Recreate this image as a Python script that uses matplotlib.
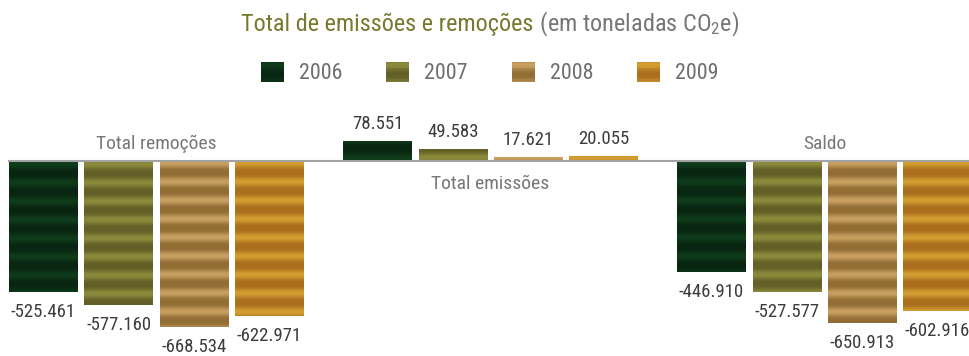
import matplotlib
matplotlib.use('Agg')
import matplotlib.pyplot as plt
import numpy as np
from matplotlib import font_manager
from matplotlib.colors import to_rgb
from matplotlib.patches import Rectangle
from matplotlib.legend_handler import HandlerBase

# ── Data (tonnes CO2e) ──
years = ['2006', '2007', '2008', '2009']
groups = ['Total remoções', 'Total emissões', 'Saldo']
remocoes = [-525461, -577160, -668534, -622971]
emissoes = [78551, 49583, 17621, 20055]
saldo = [-446910, -527577, -650913, -602916]
series = [remocoes, emissoes, saldo]

# ── Styles ──
LIGHT = ['#0f3c1b', '#8c8b3c', '#c8a061', '#d49e31']
DARK = ['#082210', '#5c5823', '#88652d', '#a3661a']
OLIVE = '#77792f'
GRAY = '#777777'
VAL_COLOR = '#3c3c3c'

avail = {f.name for f in font_manager.fontManager.ttflist}
FONT = 'DejaVu Sans'
for cand in ['Liberation Sans Narrow', 'Arial Narrow', 'Roboto Condensed', 'DejaVu Sans']:
    if cand in avail:
        FONT = cand
        break
plt.rcParams['font.family'] = [FONT, 'DejaVu Sans']
plt.rcParams['mathtext.fontset'] = 'custom'
plt.rcParams['mathtext.rm'] = FONT
plt.rcParams['mathtext.default'] = 'regular'

W, H = 970, 356
PX_PER_T = 0.249 / 1000      # pixels per tonne
BASE_PX = 161                # baseline row from top
SLOT_PX = 75.25              # bar pitch
X0_PX = 43.4                 # centre of first bar
GROUP_GAP = 4.44             # group pitch in slots
BAR_W = 0.91
STRIPE_PX = 18.5

fig = plt.figure(figsize=(W / 100, H / 100), dpi=100)
fig.patch.set_facecolor('white')
ax = fig.add_axes([0, 0, 1, 1])
ax.axis('off')
xlim = (-X0_PX / SLOT_PX, (W - X0_PX) / SLOT_PX)
ylim = (-(H - BASE_PX) / PX_PER_T, BASE_PX / PX_PER_T)


def stripe_colors(dist_px, i):
    t = 0.5 + 0.5 * np.cos(2 * np.pi * (dist_px - 3) / STRIPE_PX)
    t = 0.15 + 0.85 * t ** 1.6
    lo, hi = np.array(to_rgb(DARK[i])), np.array(to_rgb(LIGHT[i]))
    return lo[None, :] + (hi - lo)[None, :] * t[:, None]


for g, vals in enumerate(series):
    xs = g * GROUP_GAP + np.arange(len(years))
    bars = ax.bar(xs, vals, width=BAR_W, color=[DARK[i] for i in range(4)],
                  edgecolor='none', zorder=2)
    for i, (b, v) in enumerate(zip(bars, vals)):
        # striped fill clipped to the bar
        n = max(int(abs(v) * PX_PER_T * 4), 4)
        ys = np.linspace(0, v, n)
        img = stripe_colors(np.abs(ys) * PX_PER_T, i)[:, None, :]
        lo, hi = (v, 0) if v < 0 else (0, v)
        if v < 0:
            img = img[::-1]
        im = ax.imshow(img, extent=(b.get_x(), b.get_x() + b.get_width(), lo, hi),
                       origin='lower', aspect='auto', interpolation='bilinear', zorder=3)
        im.set_clip_path(b)
        label = f'{v:,}'.replace(',', '.')
        off = 12 if v > 0 else -25
        ax.annotate(label, (xs[i], v), xytext=(0, off), textcoords='offset pixels',
                    ha='center', va='baseline', fontsize=13.5, color=VAL_COLOR, zorder=5)
    # group label on the opposite side of the bars
    gx = xs.mean()
    goff = 12 if vals[0] < 0 else -28
    ax.annotate(groups[g], (gx, 0), xytext=(0, goff), textcoords='offset pixels',
                ha='center', va='baseline', fontsize=14, color=GRAY, zorder=5)

ax.axhline(0, xmin=9 / W, xmax=1, color='#a3a3a6', lw=1.5, zorder=4)
ax.set_xlim(*xlim)
ax.set_ylim(*ylim)


# ── Legend with striped squares ──
class StripeHandler(HandlerBase):
    def __init__(self, i):
        super().__init__()
        self.i = i

    def create_artists(self, legend, orig_handle, xdescent, ydescent, width, height,
                       fontsize, trans):
        n = 16
        d = (np.arange(n) + 0.5) / n * height * 1.3
        cols = stripe_colors(d, self.i)
        arts = []
        for k in range(n):
            arts.append(Rectangle((-xdescent, -ydescent + height * (n - 1 - k) / n),
                                  width, height / n * 1.05, facecolor=cols[k],
                                  edgecolor='none', transform=trans))
        return arts


handles = [Rectangle((0, 0), 1, 1) for _ in years]
hmap = {h: StripeHandler(i) for i, h in enumerate(handles)}
fig.legend(handles, years, handler_map=hmap, loc='center', bbox_to_anchor=(0.505, 1 - 73 / H),
           ncol=4, frameon=False, fontsize=15.8, labelcolor='#6e6e6e',
           handlelength=1.05, handleheight=1.05, handletextpad=0.68, columnspacing=2.0)

# ── Title in two colours, centred as a whole ──
ty = 1 - 31 / H
t1 = fig.text(0, ty, 'Total de emissões e remoções', color=OLIVE, fontsize=17.5,
              ha='left', va='baseline')
t2 = fig.text(0, ty, ' (em toneladas CO$_2$e)', color=GRAY, fontsize=17.5,
              ha='left', va='baseline')
r = fig.canvas.get_renderer()
w1 = t1.get_window_extent(r).width
w2 = t2.get_window_extent(r).width
x_start = (490 - (w1 + w2) / 2) / W
t1.set_x(x_start)
t2.set_x(x_start + w1 / W)

fig.savefig('out.png', dpi=100, facecolor='white')
plt.close()
